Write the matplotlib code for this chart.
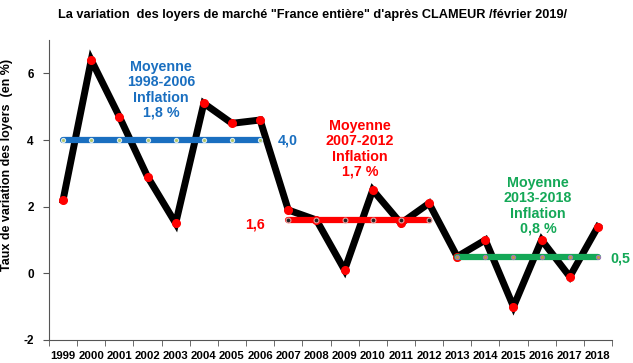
import matplotlib
matplotlib.use("Agg")
import matplotlib.pyplot as plt
from matplotlib import font_manager

years = ["1999", "2000", "2001", "2002", "2003", "2004", "2005", "2006", "2007", "2008",
         "2009", "2010", "2011", "2012", "2013", "2014", "2015", "2016", "2017", "2018"]
variation = [2.2, 6.4, 4.7, 2.9, 1.5, 5.1, 4.5, 4.6, 1.9, 1.6,
             0.1, 2.5, 1.5, 2.1, 0.5, 1.0, -1.0, 1.0, -0.1, 1.4]
mean1_years = years[0:8]
mean1_value = 4.0
mean2_years = years[8:14]
mean2_value = 1.6
mean3_years = years[14:20]
mean3_value = 0.5
y_ticks = [-2, 0, 2, 4, 6]

names = {f.name for f in font_manager.fontManager.ttflist}
narrow = "Liberation Sans Narrow" if "Liberation Sans Narrow" in names else "Liberation Sans"
plt.rcParams["font.family"] = ["Liberation Sans", "DejaVu Sans"]

BLUE = "#1a6fc0"
RED = "#ff0000"
GREEN = "#14a857"

fig = plt.figure(figsize=(6.33, 3.63), dpi=100)
ax = fig.add_axes([49/633, 1-340/363, 563/633, 300/363])

idx = {y: i for i, y in enumerate(years)}
x = [idx[y] for y in years]

ax.plot(x, variation, color="black", lw=5, solid_joinstyle="miter", zorder=2)
ax.plot(x, variation, ls="none", marker="o", ms=5.5, mfc=RED, mec=RED, zorder=3)

x1 = [idx[y] for y in mean1_years]
ax.plot(x1, [mean1_value]*len(x1), color=BLUE, lw=4.5, solid_capstyle="round", zorder=4,
        marker="o", ms=3, mfc="#b5c96a", mec="#d8e8f0", mew=0.8)
x2 = [idx[y] for y in mean2_years]
ax.plot(x2, [mean2_value]*len(x2), color=RED, lw=4.5, solid_capstyle="round", zorder=4,
        marker="o", ms=3.5, mfc="#222222", mec="#e8a0a0", mew=0.8)
x3 = [idx[y] for y in mean3_years]
ax.plot(x3, [mean3_value]*len(x3), color=GREEN, lw=4.5, solid_capstyle="round", zorder=4,
        marker="o", ms=3, mfc="#c0a040", mec="#9a7ab8", mew=0.8)

ax.set_xlim(-0.5, len(years) - 0.5)
ax.set_ylim(-2, 7)
ax.set_yticks(y_ticks)
ax.set_yticklabels([str(v) for v in y_ticks], family=narrow, fontsize=8.5, fontweight="bold")
ax.set_xticks(x)
ax.set_xticklabels(years, family=narrow, fontsize=8.2, fontweight="bold")
ax.set_xticks([i - 0.5 for i in range(len(years) + 1)], minor=True)
ax.tick_params(axis="x", which="major", length=0, pad=8)
ax.tick_params(axis="x", which="minor", length=4, direction="out", color="#555555")
ax.tick_params(axis="y", length=4, direction="out", color="#555555", pad=7)
for s in ["top", "right"]:
    ax.spines[s].set_visible(False)
ax.spines["left"].set_color("#555555")
ax.spines["bottom"].set_color("#555555")

ax.set_ylabel("Taux de variation des loyers  (en %)", fontsize=9, fontweight="bold")
ax.yaxis.set_label_coords(-36/563, (340-165)/300)

fig.text(312/633, 1-15/363, "La variation  des loyers de marché \"France entière\" d'après CLAMEUR /février 2019/",
         ha="center", va="center", fontsize=9.2, fontweight="bold", family=narrow)

tkw = dict(fontsize=10.3, fontweight="bold", linespacing=1.12)
ax.text(3.48, 5.5, "Moyenne\n1998-2006\nInflation\n1,8 %", color=BLUE, ha="center", va="center", **tkw)
ax.text(7.63, 4.0, "4,0", color=BLUE, ha="left", va="center", **tkw)
ax.text(10.55, 3.73, "Moyenne\n2007-2012\nInflation\n1,7 %", color=RED, ha="center", va="center", **tkw)
ax.text(7.17, 1.48, "1,6", color=RED, ha="right", va="center", **tkw)
ax.text(16.87, 2.02, "Moyenne\n2013-2018\nInflation\n0,8 %", color=GREEN, ha="center", va="center", **tkw)
ax.text(19.43, 0.45, "0,5", color=GREEN, ha="left", va="center", clip_on=False, **tkw)

fig.savefig("out.png", dpi=100)
